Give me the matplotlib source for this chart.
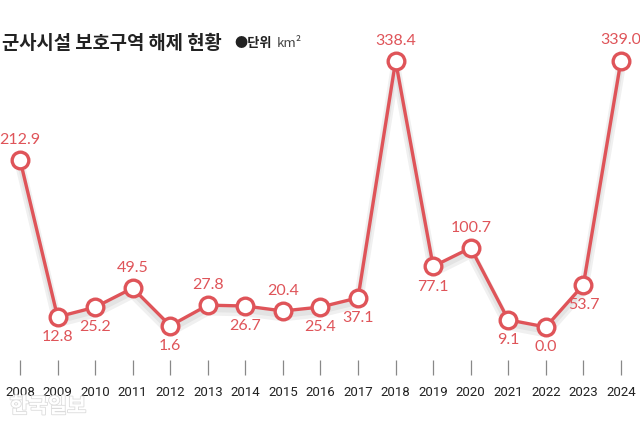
import matplotlib
matplotlib.use("Agg")
import matplotlib.pyplot as plt  # noqa: E402
import matplotlib.patheffects as pe  # noqa: E402

plt.rcParams["font.family"] = ["Noto Sans CJK KR", "DejaVu Sans"]

# 군사시설 보호구역 해제 면적 (km²)
years = list(range(2008, 2025))
area = [212.9, 12.8, 25.2, 49.5, 1.6, 27.8, 26.7, 20.4, 25.4, 37.1,
        338.4, 77.1, 100.7, 9.1, 0.0, 53.7, 339.0]
label_pos = ["up", "down", "down", "up", "down", "up", "down", "up", "down", "down",
             "up", "down", "up", "down", "down", "down", "up"]

RED = "#DF5459"

fig = plt.figure(figsize=(6.4, 4.22), dpi=100)
ax = fig.add_axes([0, 47 / 422, 1, 375 / 422])
ax.set_xlim(2007.4675, 2024.507)
ax.set_ylim(-61.07, 416.0)

shadow = [pe.SimpleLineShadow(offset=(0, -4), shadow_color="black", alpha=0.06, linewidth=7),
          pe.SimpleLineShadow(offset=(0, -3), shadow_color="black", alpha=0.05, linewidth=4),
          pe.Normal()]
ax.plot(years, area, color=RED, lw=2.4, solid_capstyle="round", path_effects=shadow, zorder=2)
ax.plot(years, area, "o", ms=12, mfc="white", mec=RED, mew=2.4, zorder=3)

for x, v, pos in zip(years, area, label_pos):
    dy = 14.5 if pos == "up" else -14.5
    ax.annotate(f"{v:.1f}", (x, v), xytext=(0, dy), textcoords="offset points",
                ha="center", va="center", color=RED, fontsize=11.5, family="Lato")

for s in ax.spines.values():
    s.set_visible(False)
ax.set_yticks([])
ax.set_xticks(years)
ax.set_xticklabels([str(y) for y in years], family="Roboto", fontsize=9.5, color="#222222")
ax.tick_params(axis="x", direction="in", length=10.5, width=0.9, color="#888888", pad=8)

fig.text(0.003, 0.898, "군사시설 보호구역 해제 현황", fontsize=13.5, fontweight="bold",
         color="#222222", va="center", ha="left")
fig.text(0.366, 0.898, "●단위", fontsize=9.5, fontweight="bold", color="#222222",
         va="center", ha="left")
fig.text(0.432, 0.898, "km²", fontsize=9.5, color="#444444", va="center", ha="left")

# watermark
fig.text(0.015, 0.022, "한국일보", fontsize=15, color="white", fontweight="bold",
         path_effects=[pe.withStroke(linewidth=1.2, foreground="#dcdcdc")])

fig.savefig("out.png", dpi=100)
